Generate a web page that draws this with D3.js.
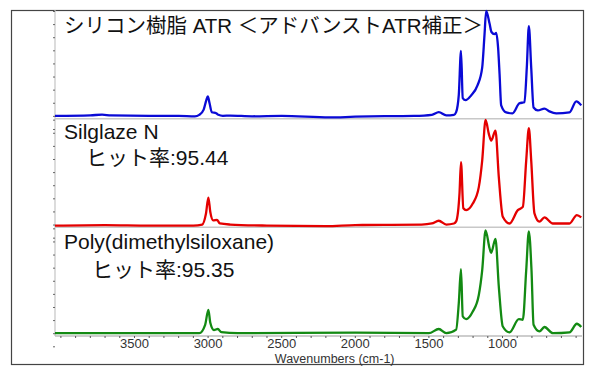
<!DOCTYPE html>
<html>
<head>
<meta charset="utf-8">
<script src="https://cdn.jsdelivr.net/npm/d3@7"></script>
<style>
  body { margin: 0; background: #fff; }
  svg { display: block; }
</style>
</head>
<body>
<svg id="chart" width="591" height="373"></svg>
<script>
// data: [wavenumber, relative absorbance]
var sampleSpectrum = [
  [4040, 0.0], [3800, 0.005], [3720, 0.012], [3660, 0.004], [3400, 0.0], [3200, 0.0],
  [3090, -0.005], [3060, 0.01], [3030, 0.06], [3012, 0.15], [3002, 0.185], [2990, 0.12],
  [2975, 0.035], [2945, 0.025], [2930, 0.01], [2900, 0.0], [2850, 0.003], [2700, -0.004],
  [2500, 0.0], [2175, -0.015], [2000, -0.008], [1800, -0.003], [1600, 0.0], [1480, 0.01],
  [1433, 0.036], [1382, 0.005], [1330, 0.01], [1315, 0.036], [1297, 0.2], [1282, 0.62],
  [1270, 0.17], [1251, 0.15], [1213, 0.195], [1170, 0.29], [1138, 0.46], [1122, 0.78],
  [1111, 1.0], [1088, 0.88], [1075, 0.8], [1055, 0.78], [1043, 0.79], [1030, 0.65],
  [1020, 0.4], [1009, 0.1], [975, 0.033], [932, 0.024], [885, 0.12], [851, 0.13],
  [835, 0.46], [821, 0.855], [805, 0.46], [789, 0.08], [760, 0.052], [715, 0.07],
  [681, 0.043], [635, 0.024], [545, 0.033], [499, 0.138], [465, 0.1]
];

var silglazeSpectrum = [
  [4040, -0.01], [3700, -0.005], [3400, -0.01], [3100, -0.01], [3040, 0.0], [3015, 0.1],
  [2998, 0.257], [2985, 0.12], [2965, 0.04], [2940, 0.045], [2920, 0.01], [2850, 0.0],
  [2600, -0.01], [2200, -0.015], [2000, -0.005], [1800, -0.003], [1550, 0.0], [1480, 0.01],
  [1433, 0.036], [1382, 0.0], [1330, 0.01], [1315, 0.03], [1292, 0.3], [1282, 0.595],
  [1266, 0.155], [1247, 0.137], [1202, 0.2], [1161, 0.357], [1138, 0.61], [1115, 0.997],
  [1093, 0.865], [1077, 0.8], [1048, 0.895], [1025, 0.45], [998, 0.074], [952, 0.01],
  [896, 0.137], [862, 0.168], [839, 0.61], [821, 0.92], [805, 0.61], [783, 0.106],
  [749, 0.027], [715, 0.068], [658, 0.01], [545, 0.01], [495, 0.09], [465, 0.068]
];

var pdmsSpectrum = [
  [4040, 0.0], [3700, 0.0], [3200, 0.0], [3060, 0.0], [3020, 0.08], [2998, 0.223],
  [2985, 0.1], [2960, 0.03], [2934, 0.04], [2910, 0.01], [2800, 0.0], [2000, 0.005],
  [1500, 0.0], [1433, 0.04], [1382, 0.0], [1315, 0.034], [1297, 0.287], [1282, 0.61],
  [1270, 0.16], [1247, 0.134], [1202, 0.206], [1161, 0.365], [1138, 0.6], [1115, 0.98],
  [1088, 0.81], [1077, 0.767], [1048, 0.9], [1025, 0.442], [998, 0.064], [952, 0.008],
  [889, 0.134], [862, 0.128], [839, 0.6], [821, 0.97], [803, 0.6], [789, 0.08],
  [749, 0.017], [715, 0.059], [658, 0.0], [545, 0.008], [495, 0.09], [465, 0.059]
];

var panelIds = ["sample", "silglaze", "pdms"];
var panelColors = ["#0a0ad6", "#e40000", "#138a13"];
var panelLabels = [
  ["シリコン樹脂 ATR ＜アドバンストATR補正＞"],
  ["Silglaze N", "ヒット率:95.44"],
  ["Poly(dimethylsiloxane)", "ヒット率:95.35"]
];
var xTicks = [3500, 3000, 2500, 2000, 1500, 1000];
var xMinorTicks = d3.range(4000, 400, -100);
var xTitle = "Wavenumbers (cm-1)";

var spectra = [sampleSpectrum, silglazeSpectrum, pdmsSpectrum];

var svg = d3.select("#chart");
var plotLeft = 55, plotRight = 582, plotTop = 10, plotBottom = 336;
var font = "'Liberation Sans', Arial, 'Noto Sans CJK JP', sans-serif";

// outer frame
svg.append("rect")
  .attr("x", 11.5).attr("y", 10.5)
  .attr("width", 572).attr("height", 354)
  .attr("fill", "none")
  .attr("stroke", "#444")
  .attr("stroke-width", 1.2);

var x = d3.scaleLinear().domain([4040, 460]).range([plotLeft, plotRight]);
var band = d3.scaleBand().domain(panelIds).range([plotTop, plotBottom]);

// panel separators
svg.append("g").selectAll("line")
  .data(panelIds.slice(1))
  .enter().append("line")
    .attr("x1", plotLeft).attr("x2", plotRight)
    .attr("y1", d => band(d)).attr("y2", d => band(d))
    .attr("stroke", "#c8c8c8")
    .attr("stroke-width", 1.5);

// left axis (dotted look)
svg.append("line")
  .attr("x1", plotLeft).attr("x2", plotLeft)
  .attr("y1", plotTop).attr("y2", plotBottom)
  .attr("stroke", "#c4c4c4")
  .attr("stroke-width", 1.2);

panelIds.forEach(function(id, i) {
  var y = d3.scaleLinear().domain([0, 1])
    .range([band(id) + band.bandwidth() - 2.8, band(id) + 1]);

  svg.append("g")
    .attr("transform", "translate(" + plotLeft + ",0)")
    .call(d3.axisLeft(y).tickValues(d3.range(-0.125, 1.01, 0.125)).tickSize(2).tickFormat(""))
    .call(g => g.select(".domain").remove())
    .call(g => g.selectAll("line").attr("stroke", "#666"));

  var line = d3.line()
    .x(d => x(d[0]))
    .y(d => y(d[1]))
    .curve(d3.curveMonotoneX);

  svg.append("path")
    .datum(spectra[i])
    .attr("fill", "none")
    .attr("stroke", panelColors[i])
    .attr("stroke-width", 2.3)
    .attr("stroke-linejoin", "round")
    .attr("d", line);
});

// x axis
var xAxisG = svg.append("g")
  .attr("transform", "translate(0," + plotBottom + ")");

xAxisG.append("line")
  .attr("x1", plotLeft).attr("x2", plotRight)
  .attr("stroke", "#bdbdbd")
  .attr("stroke-width", 1.5);

xAxisG.selectAll(".minor")
  .data(xMinorTicks)
  .enter().append("line")
    .attr("class", "minor")
    .attr("x1", d => x(d)).attr("x2", d => x(d))
    .attr("y1", 0).attr("y2", 2)
    .attr("stroke", "#555");

xAxisG.selectAll(".lbl")
  .data(xTicks)
  .enter().append("text")
    .attr("class", "lbl")
    .attr("x", d => x(d))
    .attr("y", 12)
    .attr("text-anchor", "middle")
    .style("font-family", font)
    .style("font-size", "13px")
    .style("fill", "#333")
    .text(d => d);

svg.append("text")
  .attr("x", x(2140))
  .attr("y", 362.5)
  .attr("text-anchor", "middle")
  .style("font-family", font)
  .style("font-size", "12.5px")
  .style("fill", "#333")
  .text(xTitle);

// panel labels
var labelPos = [
  [[64, 33]],
  [[64, 139], [86, 165]],
  [[64, 249], [92, 277]]
];
panelLabels.forEach(function(lines, i) {
  lines.forEach(function(t, j) {
    svg.append("text")
      .attr("x", labelPos[i][j][0])
      .attr("y", labelPos[i][j][1])
      .style("font-family", font)
      .style("font-size", i === 0 ? "20.5px" : "21px")
      .style("fill", "#111")
      .text(t);
  });
});
</script>
</body>
</html>
